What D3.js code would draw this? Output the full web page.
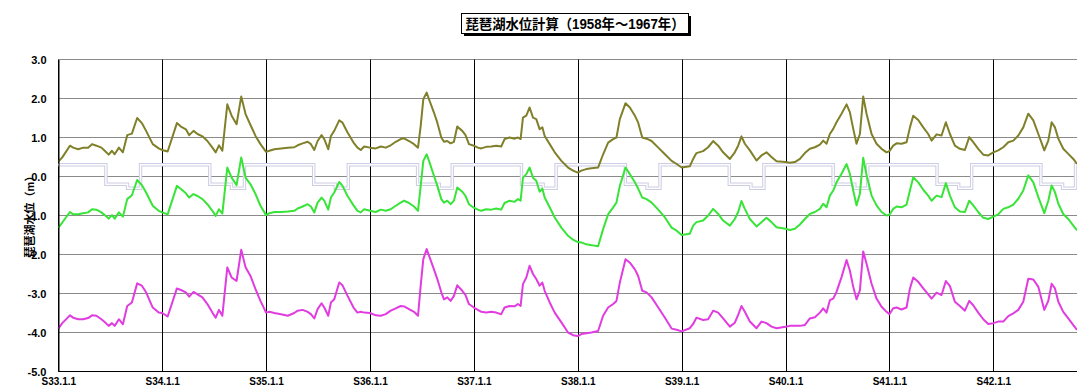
<!DOCTYPE html>
<html>
<head>
<meta charset="utf-8">
<script src="https://cdn.jsdelivr.net/npm/d3@7"></script>
<style>
  body { margin: 0; background: #fff; }
  svg { display: block; }
  text { font-family: "Liberation Sans", Arial, "Noto Sans CJK JP", sans-serif; font-weight: bold; fill: #000; }
</style>
</head>
<body>
<svg id="chart" width="1077" height="389"></svg>
<script>
// Time axis: months elapsed since 1958-01-01 (S33.1.1)
const months = [
  0.00, 0.46, 1.34, 1.72, 2.30, 2.87, 3.44, 3.90, 4.40, 4.98, 5.36, 5.82, 6.20, 6.51, 7.00, 7.46, 7.96, 8.50, 9.11, 9.65, 10.14, 10.91, 11.60,
  12.00, 12.63, 13.70, 14.16, 14.74, 15.12, 15.62, 16.08, 16.65, 17.22, 17.80, 18.18, 18.56, 18.95, 19.52, 20.02, 20.59, 21.13, 21.63, 22.20, 22.78, 23.35,
  24.00, 24.38, 24.96, 25.73, 26.50, 27.26, 27.65, 28.22, 28.80, 29.18, 29.57, 29.95, 30.41, 30.72, 31.18, 31.49, 31.87, 32.45, 32.83, 33.41, 34.10, 34.56, 34.94, 35.33,
  36.00, 36.67, 37.25, 37.82, 38.40, 38.98, 39.55, 39.94, 40.51, 41.09, 41.55, 41.86, 42.16, 42.55, 42.82, 43.39, 43.78, 44.24, 44.55, 44.93, 45.31, 45.70, 46.08, 46.66, 47.04, 47.43,
  48.00, 48.46, 48.85, 49.43, 50.01, 50.58, 51.16, 51.55, 52.13, 52.71, 53.09, 53.40, 53.67, 54.06, 54.44, 54.83, 55.21, 55.60, 55.91, 56.18, 56.76, 57.34, 58.11, 58.88, 59.46,
  60.00, 60.42, 60.99, 61.58, 62.35, 62.93, 63.51, 64.09, 64.47, 64.86, 65.52, 66.02, 66.60, 66.98, 67.45, 67.95, 68.53, 69.30, 70.07, 70.84, 71.42,
  72.00, 72.94, 73.33, 73.71, 74.48, 75.06, 75.64, 76.22, 76.79, 77.57, 78.14, 78.53, 78.91, 79.30, 79.88, 80.65, 81.22, 81.80, 82.38, 82.96,
  84.00, 84.50, 85.08, 85.66, 86.23, 86.81, 87.39, 87.97, 88.35, 88.74, 89.12, 89.51, 89.89, 90.47, 91.05, 91.43, 91.82, 92.20, 92.59, 92.97, 93.36, 93.94, 94.51, 95.09, 95.67,
  96.00, 96.44, 96.83, 97.40, 97.98, 98.37, 98.75, 99.33, 99.91, 100.48, 100.87, 101.45, 102.02, 102.52, 102.99, 103.56, 104.14, 104.72, 105.22, 105.68, 106.26, 106.84, 107.42,
  108.00, 108.57, 109.15, 109.73, 110.31, 110.89, 111.46, 112.04, 112.62, 113.20, 113.89, 114.35, 114.74, 115.12, 115.51, 116.08, 116.66, 117.24, 117.67
];

// Computed lake level (m), upper case
const caseA = [
  0.38, 0.49, 0.79, 0.74, 0.70, 0.74, 0.74, 0.83, 0.79, 0.74, 0.66, 0.56, 0.66, 0.57, 0.74, 0.62, 1.06, 1.10, 1.50, 1.37, 1.17, 0.83, 0.72,
  0.68, 0.64, 1.37, 1.28, 1.21, 1.06, 1.17, 1.09, 1.03, 0.91, 0.74, 0.62, 0.80, 0.66, 1.85, 1.56, 1.34, 2.05, 1.60, 1.32, 1.04, 0.83,
  0.63, 0.66, 0.70, 0.72, 0.74, 0.75, 0.80, 0.85, 0.89, 0.83, 0.68, 0.91, 1.06, 0.96, 0.70, 1.04, 1.17, 1.44, 1.38, 1.13, 0.87, 0.74, 0.68, 0.77,
  0.74, 0.72, 0.77, 0.74, 0.80, 0.89, 0.96, 0.98, 0.91, 0.83, 0.74, 1.30, 1.98, 2.15, 1.98, 1.64, 1.38, 1.00, 0.89, 0.91, 0.85, 0.89, 1.28, 1.17, 1.06, 0.83,
  0.79, 0.74, 0.72, 0.76, 0.77, 0.79, 0.77, 0.96, 1.00, 0.97, 1.00, 0.96, 1.51, 1.56, 1.77, 1.51, 1.47, 1.21, 1.26, 1.04, 0.83, 0.62, 0.40, 0.23, 0.15,
  0.10, 0.15, 0.19, 0.21, 0.23, 0.57, 0.87, 0.96, 1.00, 1.47, 1.88, 1.77, 1.56, 1.38, 1.00, 0.97, 0.91, 0.74, 0.57, 0.40, 0.32,
  0.23, 0.26, 0.45, 0.60, 0.65, 0.75, 0.91, 0.79, 0.62, 0.45, 0.62, 0.79, 1.03, 0.84, 0.67, 0.41, 0.54, 0.62, 0.50, 0.39,
  0.37, 0.35, 0.37, 0.45, 0.60, 0.71, 0.75, 0.82, 0.92, 0.84, 1.09, 1.22, 1.39, 1.61, 1.85, 1.65, 1.22, 0.84, 1.09, 2.05, 1.61, 1.09, 0.84, 0.71, 0.62,
  0.65, 0.79, 0.85, 0.84, 0.88, 1.26, 1.56, 1.45, 1.26, 1.09, 0.92, 1.08, 1.05, 1.39, 1.09, 0.79, 0.71, 0.68, 1.01, 0.88, 0.71, 0.56, 0.54,
  0.62, 0.67, 0.75, 0.88, 0.92, 1.05, 1.26, 1.61, 1.44, 1.09, 0.67, 0.92, 1.39, 1.26, 0.97, 0.71, 0.58, 0.45, 0.32
];

// Computed lake level (m), middle case
const caseB = [
  -1.31, -1.18, -0.91, -0.97, -0.97, -0.94, -0.92, -0.84, -0.85, -0.92, -0.99, -1.08, -0.99, -1.08, -0.92, -1.03, -0.58, -0.48, -0.09, -0.22, -0.41, -0.75, -0.88,
  -0.92, -0.97, -0.24, -0.32, -0.43, -0.54, -0.45, -0.50, -0.58, -0.71, -0.88, -1.01, -0.84, -0.95, 0.23, -0.03, -0.22, 0.49, -0.03, -0.20, -0.45, -0.75,
  -0.99, -0.94, -0.91, -0.91, -0.90, -0.88, -0.82, -0.77, -0.71, -0.77, -0.92, -0.67, -0.54, -0.62, -0.85, -0.54, -0.41, -0.14, -0.24, -0.50, -0.74, -0.88, -0.92, -0.84,
  -0.88, -0.91, -0.85, -0.88, -0.84, -0.75, -0.67, -0.62, -0.68, -0.77, -0.88, -0.24, 0.40, 0.57, 0.40, 0.02, -0.24, -0.58, -0.67, -0.62, -0.71, -0.62, -0.28, -0.39, -0.50, -0.71,
  -0.80, -0.85, -0.88, -0.84, -0.85, -0.82, -0.85, -0.68, -0.62, -0.65, -0.58, -0.62, -0.03, 0.06, 0.23, -0.03, -0.11, -0.39, -0.31, -0.54, -0.79, -1.05, -1.31, -1.52, -1.62,
  -1.68, -1.69, -1.74, -1.76, -1.79, -1.35, -0.97, -0.79, -0.67, -0.24, 0.23, 0.06, -0.15, -0.31, -0.54, -0.58, -0.67, -0.85, -1.05, -1.31, -1.39,
  -1.50, -1.47, -1.26, -1.17, -1.13, -1.00, -0.83, -0.96, -1.13, -1.26, -1.09, -0.91, -0.63, -0.83, -1.09, -1.28, -1.17, -1.06, -1.17, -1.30,
  -1.34, -1.37, -1.34, -1.23, -1.09, -0.96, -0.91, -0.83, -0.70, -0.79, -0.49, -0.36, -0.15, 0.07, 0.32, 0.07, -0.36, -0.74, -0.44, 0.48, 0.03, -0.49, -0.74, -0.91, -1.00,
  -0.98, -0.83, -0.77, -0.79, -0.72, -0.36, -0.02, -0.15, -0.34, -0.49, -0.62, -0.49, -0.53, -0.17, -0.49, -0.79, -0.90, -0.91, -0.62, -0.74, -0.91, -1.06, -1.09,
  -1.03, -0.97, -0.83, -0.79, -0.72, -0.57, -0.36, 0.03, -0.15, -0.53, -0.94, -0.62, -0.23, -0.40, -0.70, -0.96, -1.09, -1.26, -1.38
];

// Computed lake level (m), lower case
const caseC = [
  -3.90, -3.76, -3.56, -3.62, -3.66, -3.66, -3.63, -3.56, -3.57, -3.66, -3.73, -3.83, -3.76, -3.83, -3.66, -3.79, -3.32, -3.23, -2.74, -2.80, -2.97, -3.36, -3.49,
  -3.50, -3.59, -2.87, -2.91, -2.97, -3.08, -2.96, -3.02, -3.10, -3.27, -3.49, -3.62, -3.42, -3.57, -2.33, -2.59, -2.68, -1.88, -2.33, -2.55, -2.89, -3.19,
  -3.49, -3.47, -3.50, -3.53, -3.57, -3.50, -3.44, -3.42, -3.47, -3.53, -3.64, -3.40, -3.25, -3.36, -3.57, -3.23, -3.15, -2.72, -2.79, -3.06, -3.36, -3.49, -3.47, -3.49,
  -3.50, -3.56, -3.57, -3.53, -3.44, -3.38, -3.32, -3.33, -3.40, -3.47, -3.57, -2.80, -2.12, -1.86, -2.03, -2.38, -2.63, -2.97, -3.15, -3.10, -3.19, -3.06, -2.79, -2.93, -3.04, -3.27,
  -3.36, -3.42, -3.47, -3.49, -3.47, -3.49, -3.53, -3.36, -3.32, -3.33, -3.27, -3.32, -2.76, -2.59, -2.29, -2.50, -2.63, -2.80, -2.72, -2.93, -3.23, -3.49, -3.74, -4.00, -4.07,
  -4.09, -4.04, -4.02, -4.00, -3.96, -3.57, -3.36, -3.27, -3.19, -2.72, -2.12, -2.21, -2.38, -2.55, -2.93, -2.97, -3.10, -3.36, -3.62, -3.90, -3.93,
  -3.97, -3.89, -3.78, -3.62, -3.68, -3.66, -3.44, -3.49, -3.64, -3.85, -3.75, -3.55, -3.32, -3.47, -3.72, -3.89, -3.72, -3.76, -3.85, -3.89,
  -3.85, -3.83, -3.83, -3.83, -3.81, -3.64, -3.61, -3.49, -3.38, -3.49, -3.17, -3.13, -2.96, -2.58, -2.14, -2.41, -2.83, -3.15, -2.92, -1.92, -2.24, -2.75, -3.13, -3.34, -3.47,
  -3.53, -3.38, -3.36, -3.41, -3.36, -2.87, -2.59, -2.70, -2.87, -3.02, -3.13, -2.98, -3.04, -2.68, -2.81, -3.21, -3.32, -3.44, -3.19, -3.30, -3.49, -3.66, -3.78,
  -3.76, -3.72, -3.72, -3.58, -3.51, -3.42, -3.21, -2.62, -2.64, -2.83, -3.42, -3.19, -2.75, -2.87, -3.21, -3.47, -3.64, -3.81, -3.93
];

// Seasonal operating level: month within the year where each level starts
const ruleMonths = [0, 5.5, 8, 9.5];
const ruleLevels = [0.3, -0.2, -0.3, 0.3];

const yearLabels = ["S33.1.1", "S34.1.1", "S35.1.1", "S36.1.1", "S37.1.1", "S38.1.1", "S39.1.1", "S40.1.1", "S41.1.1", "S42.1.1"];
const yTicks = [3, 2, 1, 0, -1, -2, -3, -4, -5];
const titleText = "琵琶湖水位計算（1958年～1967年）";
const yTitle = "琵琶湖水位（m）";

const svg = d3.select("#chart");
const W = 1077, H = 389;

const x = d3.scaleLinear().domain([0, 120]).range([58.3, 1097.2]);
const y = d3.scaleLinear().domain([-5, 3]).range([371.5, 59.5]);
const xTicks = d3.range(0, 120, 12);
const px = v => Math.round(x(v)) + 0.5;

// Horizontal grid lines
svg.append("g").selectAll("line").data(yTicks).join("line")
  .attr("x1", px(0)).attr("x2", W)
  .attr("y1", d => y(d)).attr("y2", d => y(d))
  .attr("stroke", d => d === -5 ? "#000" : "#8a8a8a")
  .attr("stroke-width", 1);

// Year boundary lines
svg.append("g").selectAll("line").data(xTicks).join("line")
  .attr("x1", d => px(d)).attr("x2", d => px(d))
  .attr("y1", y(3)).attr("y2", y(-5))
  .attr("stroke", "#000").attr("stroke-width", 1);

// Seasonal operating level as a light double step line
const rulePts = [];
for (let k = 0; k < 10; k++) {
  ruleMonths.forEach((m, i) => rulePts.push([12 * k + m, ruleLevels[i]]));
}
rulePts.push([120, ruleLevels[ruleLevels.length - 1]]);
const stepLine = d3.line().x(d => x(d[0])).y(d => y(d[1])).curve(d3.curveStepAfter);
svg.append("path").attr("d", stepLine(rulePts))
  .attr("fill", "none").attr("stroke", "#cdcde3").attr("stroke-width", 3.4);
svg.append("path").attr("d", stepLine(rulePts))
  .attr("fill", "none").attr("stroke", "#fdfdff").attr("stroke-width", 1.4);

// Level series
const series = [
  { values: caseA, color: "#80802a" },
  { values: caseB, color: "#38e438" },
  { values: caseC, color: "#e03ce0" }
];
const line = d3.line().x((d, i) => x(months[i])).y(d => y(d));
svg.append("g").selectAll("path").data(series).join("path")
  .attr("d", d => line(d.values))
  .attr("fill", "none")
  .attr("stroke", d => d.color)
  .attr("stroke-width", 2)
  .attr("stroke-linejoin", "round");

// Left axis
const yAxis = svg.append("g").attr("transform", `translate(${px(0)},0)`)
  .call(d3.axisLeft(y).tickValues(yTicks).tickSize(0).tickPadding(12)
    .tickFormat(d => d3.format(".1f")(d).replace("−", "-")));
yAxis.select(".domain").attr("stroke", "#000");
yAxis.selectAll("text").style("font-size", "11px").style("font-family", "'Liberation Sans', Arial, sans-serif").style("font-weight", "bold");

// Bottom axis labels, tucked just under the plot
const xAxis = svg.append("g").attr("transform", `translate(0,${y(-5)})`)
  .call(d3.axisBottom(x).tickValues(xTicks).tickSize(0).tickPadding(6)
    .tickFormat((d, i) => yearLabels[i]));
xAxis.select(".domain").remove();
xAxis.selectAll("text").style("font-size", "10px").style("font-family", "'Liberation Sans', Arial, sans-serif").style("font-weight", "bold");

// Y axis title
svg.append("text")
  .attr("transform", "translate(34,214) rotate(-90)")
  .attr("text-anchor", "middle")
  .style("font-size", "11px")
  .text(yTitle);

// Title box with drop shadow
const tb = { x: 461, y: 13, w: 227, h: 20 };
svg.append("rect").attr("x", tb.x + 3).attr("y", tb.y + 3).attr("width", tb.w).attr("height", tb.h).attr("fill", "#000");
svg.append("rect").attr("x", tb.x + 0.5).attr("y", tb.y + 0.5).attr("width", tb.w).attr("height", tb.h)
  .attr("fill", "#fff").attr("stroke", "#000").attr("stroke-width", 1);
svg.append("text")
  .attr("x", tb.x + tb.w / 2 + 0.5).attr("y", tb.y + 15.5)
  .attr("text-anchor", "middle")
  .attr("textLength", 219).attr("lengthAdjust", "spacingAndGlyphs")
  .style("font-size", "14px")
  .text(titleText);
</script>
</body>
</html>
